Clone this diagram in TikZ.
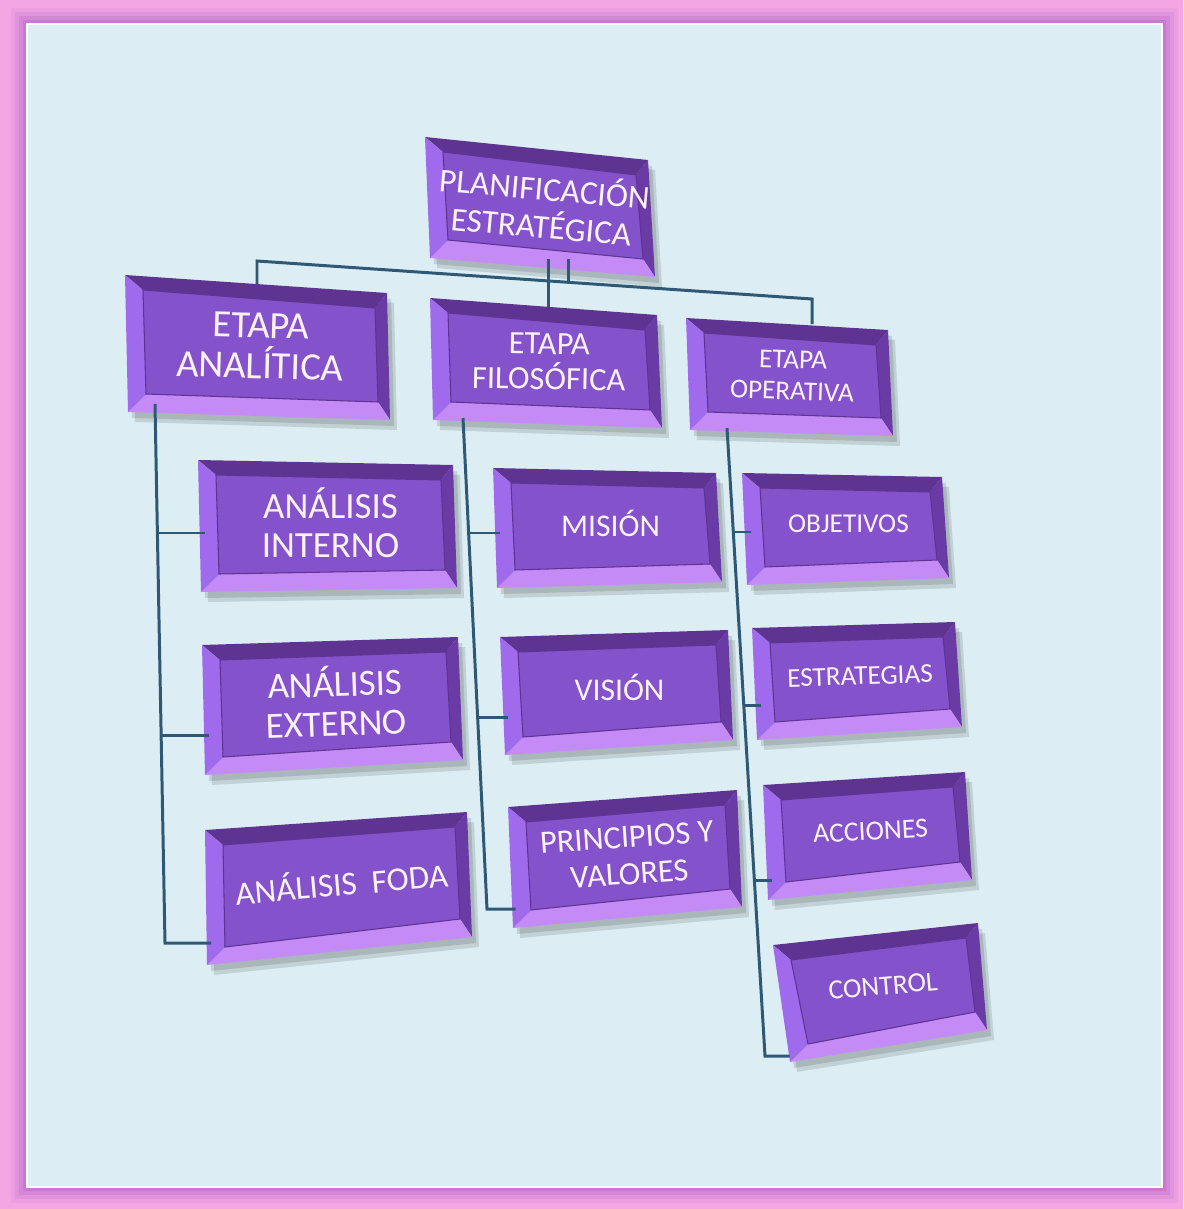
\documentclass[tikz,border=0pt]{standalone}
\usepackage{fontspec}
\setmainfont{Carlito}
\usetikzlibrary{calc}

\definecolor{framepink}{HTML}{F3A6E3}
\definecolor{framepurple}{HTML}{B86CCB}
\definecolor{bgblue}{HTML}{DCEEF3}
\definecolor{linkblue}{HTML}{2F5875}
\definecolor{facepurple}{HTML}{8452CB}
\definecolor{toppurple}{HTML}{5E3391}
\definecolor{leftpurple}{HTML}{A06AEC}
\definecolor{botpurple}{HTML}{C48BF7}
\definecolor{rightpurple}{HTML}{6A3BA5}

\newcommand{\slab}[7]{%
  \coordinate (#1-a) at #2;
  \coordinate (#1-b) at #3;
  \coordinate (#1-c) at #4;
  \coordinate (#1-d) at #5;
  \coordinate (#1-n) at ($(#1-a)!0.5!(#1-b)$);
  \coordinate (#1-w) at ($(#1-a)!0.5!(#1-d)$);
  \coordinate (#1-s) at ($(#1-c)!0.5!(#1-d)$);
  \coordinate (#1-ai) at ($(#1-a)+(18,15)$);
  \coordinate (#1-bi) at ($(#1-b)+(-12,15)$);
  \coordinate (#1-ci) at ($(#1-c)+(-12,-18)$);
  \coordinate (#1-di) at ($(#1-d)+(18,-18)$);
  \fill[slabshade] ($(#1-a)+(7,10)$) -- ($(#1-b)+(7,10)$) -- ($(#1-c)+(7,10)$) -- ($(#1-d)+(7,10)$) -- cycle;
  \fill[slabshade] ($(#1-a)+(4,6)$) -- ($(#1-b)+(4,6)$) -- ($(#1-c)+(4,6)$) -- ($(#1-d)+(4,6)$) -- cycle;
  \fill[toppurple] (#1-a) -- (#1-b) -- (#1-bi) -- (#1-ai) -- cycle;
  \fill[rightpurple] (#1-b) -- (#1-c) -- (#1-ci) -- (#1-bi) -- cycle;
  \fill[botpurple] (#1-c) -- (#1-d) -- (#1-di) -- (#1-ci) -- cycle;
  \fill[leftpurple] (#1-d) -- (#1-a) -- (#1-ai) -- (#1-di) -- cycle;
  \filldraw[slabface] (#1-ai) -- (#1-bi) -- (#1-ci) -- (#1-di) -- cycle;
  \node[slabtext, #6] (#1) at ($(#1-ai)!0.5!(#1-ci)$) {#7};
}

\begin{document}
\begin{tikzpicture}[x=0.02cm, y=-0.02cm,
    slabshade/.style={fill=black, opacity=0.12},
    slabface/.style={fill=facepurple, draw=toppurple, line width=0.6pt},
    slabtext/.style={text=white!95!purple, align=center, inner sep=0pt},
    link/.style={draw=linkblue, line width=1.7pt}]
    \useasboundingbox (0,0) rectangle (1183,1209);
    \fill[framepink] (0,0) rectangle (1183,1209);
    \foreach \k/\o in {16/0.12, 12/0.2, 8/0.3, 4/0.45}
        \fill[framepurple, opacity=\o] (27-\k,24-\k) rectangle (1162+\k,1187+\k);
    \fill[bgblue] (27,24) rectangle (1162,1187);
    \draw[white, line width=1.2pt] (27,24) rectangle (1162,1187);

    \slab{plan}{(425,137)}{(648,160)}{(655,277)}{(430,258)}{font=\fontsize{19}{21.5}\selectfont, rotate=-5}{PLANIFICACIÓN\\ESTRATÉGICA}
    \slab{ana}{(125,275)}{(387,293)}{(390,420)}{(128,412)}{font=\fontsize{22}{23}\selectfont, rotate=-1.5}{ETAPA\\ANALÍTICA}
    \slab{fil}{(430,298)}{(657,315)}{(662,428)}{(433,420)}{font=\fontsize{18.5}{20}\selectfont, rotate=-1}{ETAPA\\FILOSÓFICA}
    \slab{ope}{(686,318)}{(888,330)}{(893,436)}{(690,430)}{font=\fontsize{15.5}{18}\selectfont, rotate=-2}{ETAPA\\OPERATIVA}
    \slab{aint}{(198,460)}{(453,465)}{(457,588)}{(201,592)}{font=\fontsize{21}{22.5}\selectfont}{ANÁLISIS\\INTERNO}
    \slab{aext}{(202,645)}{(458,637)}{(463,760)}{(205,775)}{font=\fontsize{21}{22.5}\selectfont, rotate=2}{ANÁLISIS\\EXTERNO}
    \slab{foda}{(205,830)}{(467,812)}{(472,937)}{(207,965)}{font=\fontsize{19}{20}\selectfont, rotate=5}{ANÁLISIS\ \ FODA}
    \slab{mis}{(493,468)}{(716,473)}{(722,582)}{(497,588)}{font=\fontsize{18}{20}\selectfont}{MISIÓN}
    \slab{vis}{(500,637)}{(728,630)}{(733,740)}{(505,755)}{font=\fontsize{18}{20}\selectfont}{VISIÓN}
    \slab{pri}{(508,807)}{(737,790)}{(742,907)}{(513,928)}{font=\fontsize{18.5}{21}\selectfont, rotate=4}{PRINCIPIOS Y\\VALORES}
    \slab{obj}{(742,473)}{(942,477)}{(949,578)}{(747,585)}{font=\fontsize{15.5}{18}\selectfont}{OBJETIVOS}
    \slab{est}{(752,628)}{(955,622)}{(962,727)}{(757,740)}{font=\fontsize{15.5}{18}\selectfont, rotate=2}{ESTRATEGIAS}
    \slab{acc}{(763,785)}{(965,772)}{(972,880)}{(768,900)}{font=\fontsize{15.8}{18}\selectfont, rotate=3}{ACCIONES}
    \slab{con}{(773,945)}{(978,923)}{(987,1030)}{(790,1062)}{font=\fontsize{15.8}{18}\selectfont, rotate=5}{CONTROL}

    \coordinate (hl) at (257,261);
    \coordinate (hr) at (812,299);
    \coordinate (hm) at (548,259);
    \coordinate (hs) at (568,259);
    \coordinate (hsx) at (568,283);
    \draw[link] (hl |- ana-n) -- (hl) -- (hr) -- (hr |- ope-n);
    \draw[link] (hm) -- (hm |- fil-n);
    \draw[link] (hs) -- (hsx);

    \coordinate (la) at (155,404);
    \coordinate (l1) at (157.4,533);
    \coordinate (l2) at (161,735);
    \coordinate (lb) at (165,943);
    \draw[link] (la) -- (lb) -- ($(lb -| foda-w)+(5,0)$);
    \draw[link] (l1) -- ($(l1 -| aint-w)+(5,0)$);
    \draw[link] (l2) -- ($(l2 -| aext-w)+(5,0)$);

    \coordinate (ma) at (463,418);
    \coordinate (m1) at (468.6,533);
    \coordinate (m2) at (477.6,717);
    \coordinate (mb) at (487,909);
    \draw[link] (ma) -- (mb) -- ($(mb -| pri-w)+(5,0)$);
    \draw[link] (m1) -- ($(m1 -| mis-w)+(5,0)$);
    \draw[link] (m2) -- ($(m2 -| vis-w)+(5,0)$);

    \coordinate (ra) at (727,428);
    \coordinate (r1) at (733.3,532);
    \coordinate (r2) at (743.8,705);
    \coordinate (r3) at (754.4,880);
    \coordinate (rb) at (765,1056);
    \draw[link] (ra) -- (rb) -- ($(rb -| con-w)+(8,0)$);
    \draw[link] (r1) -- ($(r1 -| obj-w)+(6,0)$);
    \draw[link] (r2) -- ($(r2 -| est-w)+(6,0)$);
    \draw[link] (r3) -- ($(r3 -| acc-w)+(6,0)$);
\end{tikzpicture}
\end{document}
